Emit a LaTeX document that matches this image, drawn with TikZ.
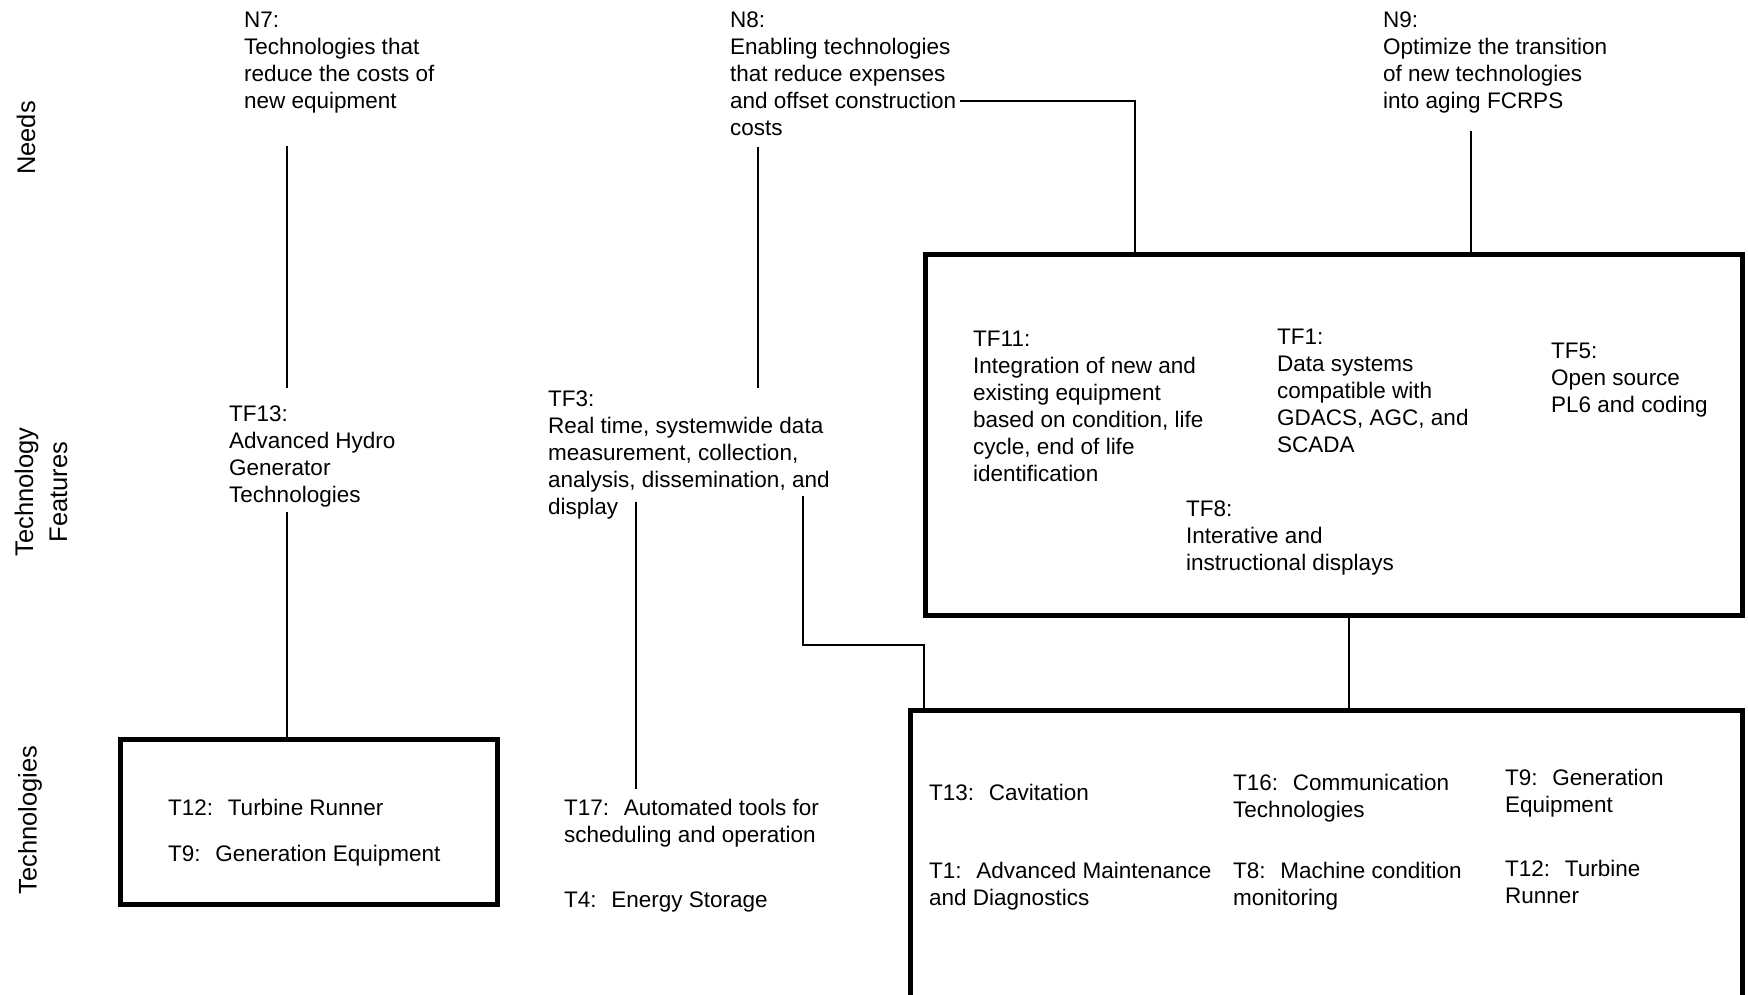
\documentclass[tikz,border=0pt]{standalone}
\usepackage{fontspec}
\setmainfont{Liberation Sans}
\begin{document}
\begin{tikzpicture}[x=1pt,y=-1pt,
  txt/.style={anchor=base west, inner sep=0pt, align=left,
              font=\fontsize{22.5}{27}\selectfont},
  side/.style={rotate=90, inner sep=0pt, align=center,
               font=\fontsize{25.5}{34}\selectfont},
  conn/.style={line width=1.6pt},
  frame/.style={draw, line width=5pt, inner sep=0pt, anchor=north west}]
\useasboundingbox (0,0) rectangle (1748,994);

% row labels
\node[side] (needs) at (26,138) {Needs};
\node[side] (feat) at (41,492) {Technology\\Features};
\node[side] (techs) at (30,820) {Technologies};

% framed groups (placed by their outer corner)
\node[frame, minimum width=377pt, minimum height=165pt] (lbox) at (118,737) {};
\node[frame, minimum width=817pt, minimum height=361pt] (tfbox) at (923,252) {};
\node[frame, minimum width=832pt, minimum height=300pt] (bbox) at (908,708) {};

% needs (placed by the baseline of their last line)
\node[txt] (n7) at (244,108) {N7:\\Technologies that\\reduce the costs of\\new equipment};
\node[txt] (n8) at (730,135) {N8:\\Enabling technologies\\that reduce expenses\\and offset construction\\costs};
\node[txt] (n9) at (1383,108) {N9:\\Optimize the transition\\of new technologies\\into aging FCRPS};

% technology features
\node[txt] (tf13) at (229,502) {TF13:\\Advanced Hydro\\Generator\\Technologies};
\node[txt] (tf3) at (548,514) {TF3:\\Real time, systemwide data\\measurement, collection,\\analysis, dissemination, and\\display};
\node[txt] (tf11) at (973,481) {TF11:\\Integration of new and\\existing equipment\\based on condition, life\\cycle, end of life\\identification};
\node[txt] (tf1) at (1277,452) {TF1:\\Data systems\\compatible with\\GDACS, AGC, and\\SCADA};
\node[txt] (tf5) at (1551,412) {TF5:\\Open source\\PL6 and coding};
\node[txt] (tf8) at (1186,570) {TF8:\\Interative and\\instructional displays};

% technologies
\node[txt] (lt12) at (168,815) {T12:~ Turbine Runner};
\node[txt] (lt9) at (168,861) {T9:~ Generation Equipment};
\node[txt] (t17) at (564,842) {T17:~ Automated tools for\\scheduling and operation};
\node[txt] (t4) at (564,907) {T4:~ Energy Storage};
\node[txt] (t13) at (929,800) {T13:~ Cavitation};
\node[txt] (t16) at (1233,817) {T16:~ Communication\\Technologies};
\node[txt] (rt9) at (1505,812) {T9:~ Generation\\Equipment};
\node[txt] (t1) at (929,905) {T1:~ Advanced Maintenance\\and Diagnostics};
\node[txt] (t8) at (1233,905) {T8:~ Machine condition\\monitoring};
\node[txt] (rt12) at (1505,903) {T12:~ Turbine\\Runner};

% connector end points
\coordinate (n7a) at (287,146);
\coordinate (tf13a) at (287,388);
\coordinate (tf13b) at (287,512);
\coordinate (n8a) at (758,147);
\coordinate (tf3a) at (758,388);
\coordinate (n8e) at (960,101);
\coordinate (n8k) at (1135,101);
\coordinate (n9a) at (1471,131);
\coordinate (tf3b) at (636,502);
\coordinate (t17a) at (636,789);
\coordinate (tf3c) at (803,496);
\coordinate (tf3k) at (803,645);
\coordinate (bk) at (924,645);
\coordinate (tfb) at (1349,0);

% connectors
\draw[conn] (n7a) -- (tf13a);
\draw[conn] (tf13b) -- (tf13b |- lbox.north);
\draw[conn] (n8a) -- (tf3a);
\draw[conn] (n8e) -- (n8k) -- (n8k |- tfbox.north);
\draw[conn] (n9a) -- (n9a |- tfbox.north);
\draw[conn] (tf3b) -- (t17a);
\draw[conn] (tf3c) -- (tf3k) -- (bk) -- (bk |- bbox.north);
\draw[conn] (tfb |- tfbox.south) -- (tfb |- bbox.north);
\end{tikzpicture}
\end{document}
